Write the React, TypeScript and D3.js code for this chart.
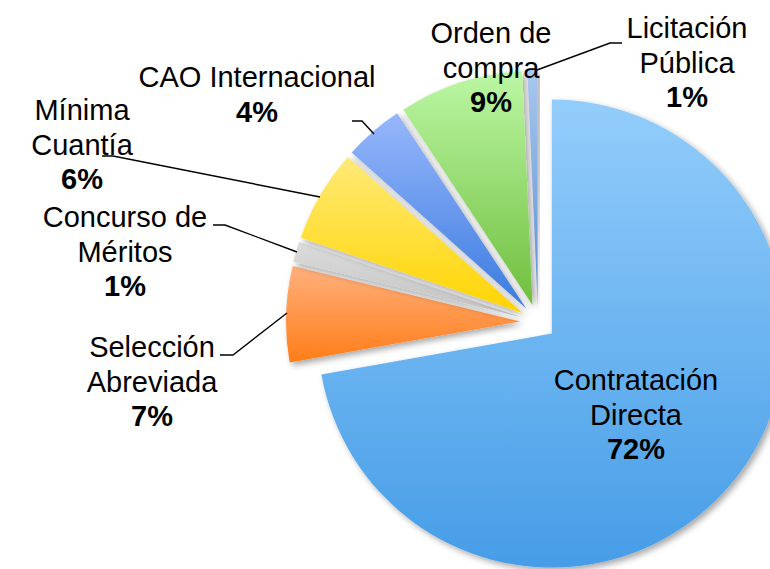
import React, { useRef, useEffect } from "react"
import * as d3 from "d3"

// data (share of each modality, %)
const categories = [
  "Contratación Directa",
  "Selección Abreviada",
  "Concurso de Méritos",
  "Mínima Cuantía",
  "CAO Internacional",
  "Orden de compra",
  "Licitación Pública",
]
const values = [72.2, 6.6, 1.4, 6.4, 4.1, 8.6, 0.7]

// label lines as they wrap in the chart
const labelLines = [
  ["Contratación", "Directa"],
  ["Selección", "Abreviada"],
  ["Concurso de", "Méritos"],
  ["Mínima", "Cuantía"],
  ["CAO Internacional"],
  ["Orden de", "compra"],
  ["Licitación", "Pública"],
]

// gradient colours, top -> bottom
const colorTop = ["#93cdfb", "#ffb07e", "#dcdcdc", "#ffea78", "#97b7fb", "#bcf7a4", "#a9c7ee"]
const colorBottom = ["#469de7", "#ff7d18", "#c2c2c2", "#ffd400", "#3a7bdf", "#6fbf3e", "#5b8fd3"]

// layout (manually placed labels in the original)
const labelPos = [
  [636, 380],
  [152, 347],
  [125, 217],
  [82, 110],
  [257, 77],
  [491, 33],
  [687, 28],
]
const leaders = [
  null,
  [[220, 355], [233, 355], [287, 313]],
  [[213, 225], [225, 225], [297, 252]],
  [[102, 156], [113, 156], [320, 197]],
  [[352, 121], [362, 121], [374, 134]],
  null,
  [[622, 43], [610, 43], [537, 70]],
]

export default function App() {
  const svgRef = useRef<SVGSVGElement>(null)

  useEffect(() => {
    const width = 770, height = 569
    const cx = 538, cy = 322
    const radius = 234
    const explode = 18
    const lineH = 34.5
    const fontSize = 29

    const svg = d3.select(svgRef.current)
      .attr("width", width)
      .attr("height", height)
    svg.selectAll("*").remove()

    const defs = svg.append("defs")
    const shadow = defs.append("filter")
      .attr("id", "shadow")
      .attr("x", "-20%").attr("y", "-20%")
      .attr("width", "140%").attr("height", "140%")
    shadow.append("feDropShadow")
      .attr("dx", 3).attr("dy", 3)
      .attr("stdDeviation", 3)
      .attr("flood-color", "#000")
      .attr("flood-opacity", 0.35)

    values.forEach((v, i) => {
      const grad = defs.append("linearGradient")
        .attr("id", "grad" + i)
        .attr("x1", 0).attr("y1", 0)
        .attr("x2", 0).attr("y2", 1)
      grad.append("stop").attr("offset", "0%").attr("stop-color", colorTop[i])
      grad.append("stop").attr("offset", "100%").attr("stop-color", colorBottom[i])
    })

    const pie = d3.pie<number>()
      .sort(null)
      .value(d => d)
      .startAngle(0)
      .endAngle(2 * Math.PI)

    const arc = d3.arc<d3.PieArcDatum<number>>()
      .innerRadius(0)
      .outerRadius(radius)

    const arcs = pie(values)

    const g = svg.append("g")
      .attr("transform", "translate(" + cx + "," + cy + ")")

    g.selectAll("path.slice")
      .data(arcs)
      .enter()
      .append("path")
      .attr("class", "slice")
      .attr("d", d => arc(d) as string)
      .attr("transform", d => {
        const mid = (d.startAngle + d.endAngle) / 2
        return "translate(" + (Math.sin(mid) * explode) + "," + (-Math.cos(mid) * explode) + ")"
      })
      .attr("fill", (d, i) => "url(#grad" + i + ")")
      .attr("filter", "url(#shadow)")

    // leader lines
    const line = d3.line()
    svg.selectAll("path.leader")
      .data(leaders.filter(l => l != null) as [number, number][][])
      .enter()
      .append("path")
      .attr("class", "leader")
      .attr("d", d => line(d))
      .attr("fill", "none")
      .attr("stroke", "#000")
      .attr("stroke-width", 1.4)

    // labels
    const labels = svg.append("g")
      .attr("font-family", "'Liberation Sans', Arial, sans-serif")
      .attr("font-size", fontSize + "px")
      .attr("text-anchor", "middle")
      .attr("fill", "#000")

    categories.forEach((c, i) => {
      const [x, y] = labelPos[i]
      const lines = labelLines[i]
      lines.forEach((t, k) => {
        labels.append("text")
          .attr("x", x)
          .attr("y", y + k * lineH + 10)
          .text(t)
      })
      labels.append("text")
        .attr("x", x)
        .attr("y", y + lines.length * lineH + 10)
        .attr("font-weight", "bold")
        .text(Math.round(values[i]) + "%")
    })
  }, [])

  return (
    <svg ref={svgRef} style={{ position: "absolute", left: 0, top: 0, background: "#fff" }}></svg>
  )
}
